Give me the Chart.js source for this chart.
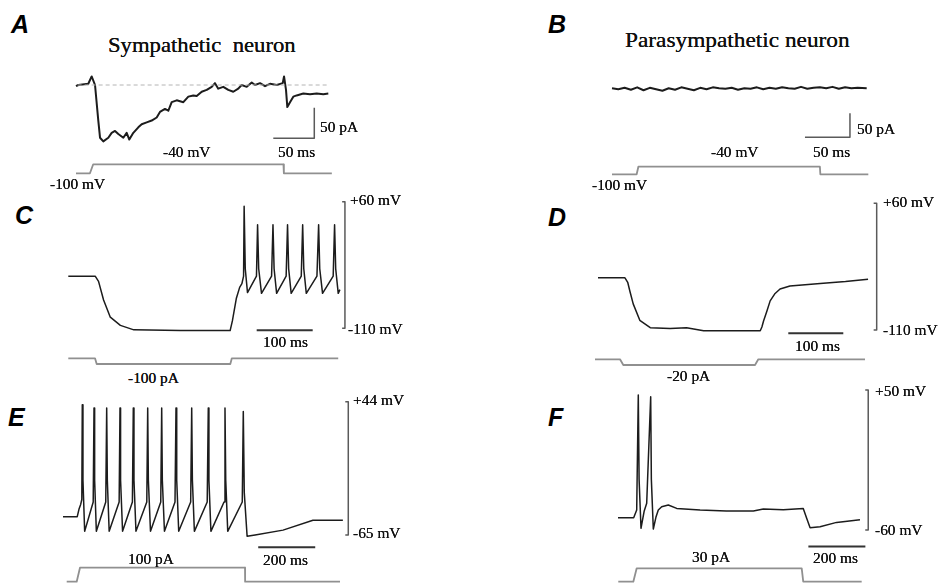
<!DOCTYPE html>
<html>
<head>
<meta charset="utf-8">
<script src="https://cdn.jsdelivr.net/npm/chart.js@4.4.0/dist/chart.umd.min.js"></script>
<style>
  html, body { margin: 0; padding: 0; background: #fff; }
  #fig { position: relative; width: 941px; height: 584px; overflow: hidden; background: #fff; filter: blur(0.35px); }
  .panel { position: absolute; }
  .lbl { position: absolute; white-space: pre; line-height: 1; color: #111;
         font-family: "Liberation Serif", "Times New Roman", serif; transform-origin: 0 0;
         text-shadow: 0 0 0.6px #000; }
  .letter { position: absolute; line-height: 1; color: #000; font-weight: bold; font-style: italic;
            font-family: "Liberation Sans", Arial, sans-serif; }
</style>
</head>
<body>
<div id="fig"></div>
<script>
// ---- A: sympathetic neuron, current under voltage step (ms, pA)
const aTime = [0, 2.8, 15, 19.1, 23.2, 27.2, 29.3, 33.3, 39.4, 43.5, 47.6, 51.6, 57.7, 61.8, 65, 69.9, 76, 80.1, 86.2, 92.3,
  98.4, 102.4, 108.5, 112.6, 116.7, 122.8, 130.9, 137, 143, 147.2, 153.3, 159.4, 165.5, 169.5, 173.5, 179.6, 185.7, 191.8,
  197.9, 202, 208.2, 214.3, 218.3, 224.4, 230.5, 236.6, 244.8, 252.1, 253.7, 256.1, 257.7, 261, 265, 269.1, 277.2, 285.4,
  293.5, 301.6, 307.7];
const aCurrent = [-2, 0, 2, 14, 0, -58, -86, -92, -86, -78, -75, -80, -86, -78, -89, -78, -69, -64, -61, -58,
  -53, -44, -39, -42, -28, -25, -28, -19, -17, -18, -11, -8, -3, 3, -6, -3, -8, -11,
  -6, 0, -3, 4, 0, 3, -2, 2, 0, 3, 14, -8, -36, -28, -19, -17, -14, -15,
  -14, -15, -14];
const aZeroTime = [2, 308];
const aZero = [0, 0];
const aStimTime = [0, 17, 21, 253, 253.5, 312];
const aStimMv = [-100, -100, -40, -40, -100, -100];
const aBarTime = [240.6, 290.6, 290.6];   // 50 ms
const aBarPa = [-87, -87, -37];           // 50 pA

// ---- B: parasympathetic neuron (ms, pA)
const bTime = [0, 7, 14, 21, 28, 35, 42, 49, 56, 63, 70, 77, 84, 91, 98, 105, 112, 119, 126, 133, 140, 147, 154, 161,
  168, 175, 182, 189, 196, 203, 210, 217, 224, 231, 238, 245, 252, 259, 266, 273, 283];
const bCurrent = [0, -2, 1, -3, 2, -4, 1, -2, -5, 0, -3, 2, -1, -4, 1, -2, 2, 0, -1, 1, -3, 0, -1, 2,
  -2, 1, -1, 2, 0, -1, 3, -1, 1, 2, 0, 3, -1, 2, 0, 1, 0];
const bStimTime = [0, 27.4, 29.3, 231, 231.5, 284.8];
const bStimMv = [-100, -100, -40, -40, -100, -100];
const bBarTime = [214.4, 264.4, 264.4];
const bBarPa = [-102, -102, -52];

// ---- C: sympathetic, -100 pA injection (ms, mV)
const cTime = [0, 48, 54, 63, 75, 93, 117, 200, 289, 293, 300, 306, 310, 313, 314, 316, 320, 336, 338, 340,
  345, 363, 365.5, 367.5, 372, 389, 391.5, 393.5, 398, 416, 418.5, 420.5, 425, 444, 447, 449, 454, 473, 475.5, 477.5,
  482, 485];
const cVolt = [-40, -40, -47, -72, -95, -106, -112, -113, -113, -100, -70, -55, -50, -40, 54, -30, -62, -40, 29, -30,
  -63, -40, 29, -30, -63, -40, 29, -30, -63, -40, 29, -30, -63, -40, 29, -30, -63, -40, 29, -30,
  -63, -58];
const cStimTime = [0, 47.7, 50.7, 289.3, 292, 482];
const cStimPa = [0, 0, -100, -100, 0, 0];
const cVBarTime = [489, 494, 494, 489];
const cVBarMv = [60, 60, -110, -110];
const cTBarTime = [336.4, 436.4];          // 100 ms
const cTBarMv = [-112.5, -112.5];

// ---- D: parasympathetic, -20 pA injection (ms, mV)
const dTime = [0, 49, 54, 58, 64, 76, 95, 131, 161, 192, 295, 298, 301, 307, 313, 322, 331, 349, 404, 450, 491];
const dVolt = [-40, -40, -46, -58, -75, -97, -107, -108, -107, -111, -111, -106, -98, -85, -71, -61, -55, -51, -47.5, -45, -42];
const dStimTime = [-5.5, 40, 46, 285.5, 291.5, 485.5];
const dStimPa = [0, 0, -20, -20, 0, 0];
const dVBarTime = [501.2, 506.7, 506.7, 501.2];
const dVBarMv = [60, 60, -110, -110];
const dTBarTime = [346, 446];
const dTBarMv = [-114.5, -114.5];

// ---- E: sympathetic, 100 pA injection (ms, mV)
const eTime = [0, 50, 56, 62, 66, 67.7, 70, 76,
  106, 108.8, 111, 117, 150, 153.3, 155.5, 162, 197, 200, 202, 209, 243.5, 246.7, 249, 256,
  294, 297.2, 299.5, 307, 343, 346.3, 348.5, 356, 393, 396.5, 399, 406, 448, 451.6, 454, 461,
  506, 509.8, 512, 519, 565, 568.4, 571, 578, 629, 632.6, 636, 646, 674, 772, 877, 982];
const eVolt = [-50, -50, -44, -40, -36, 41.5, -20, -62,
  -38, 38.8, -20, -62, -38, 38.8, -20, -62, -38, 38.8, -20, -62, -38, 38.8, -20, -62,
  -38, 38.8, -20, -62, -38, 38.8, -20, -62, -38, 38.8, -20, -62, -38, 38.8, -20, -62,
  -38, 38.8, -20, -62, -38, 38.8, -20, -62, -38, 36, -30, -66, -65, -61, -53, -53];
const eStimTime = [13, 48, 59.6, 638.6, 639, 972];
const eStimPa = [0, 0, 100, 100, 0, 0];
const eVBarTime = [990.5, 1001, 1001, 990.5];
const eVBarMv = [44, 44, -65, -65];
const eTBarTime = [685, 885];              // 200 ms
const eTBarMv = [-75, -75];

// ---- F: parasympathetic, 30 pA injection (ms, mV)
const fTime = [0, 55, 65.6, 71.2, 74, 80.7, 92, 100.7, 114.7, 117, 123.9, 133, 141.4, 153.3, 176.5, 206, 288, 380, 475, 510,
  580, 650, 662, 674, 709, 767, 849];
const fVolt = [-50.3, -50.3, -44.3, 46, -20, -58.6, -45, -39, 44.7, -20, -59.2, -50, -44.3, -41.7, -40.3, -43, -44.3, -45, -45, -43.5,
  -44, -43, -50.8, -58.2, -57.4, -54, -52];
const fStimTime = [1, 53.7, 65.6, 644.6, 650, 855];
const fStimPa = [0, 0, 30, 30, 0, 0];
const fVBarTime = [867.5, 878, 878, 867.5];
const fVBarMv = [50, 50, -60, -60];
const fTBarTime = [668, 868];
const fTBarMv = [-73, -73];

// ---------------------------------------------------------------
const TRACE = '#1c1c1c', STIM = '#909090', BAR = '#5a5a5a';
const fig = document.getElementById('fig');

function series(xs, ys, color, width, axis, dash) {
  return {
    data: xs.map((x, i) => ({ x: x, y: ys[i] })),
    borderColor: color, borderWidth: width, yAxisID: axis,
    borderDash: dash || [], pointRadius: 0, fill: false, tension: 0,
    borderJoinStyle: 'round', borderCapStyle: 'butt'
  };
}

// axis limits so that refVal lands on refPx with ppu pixels per unit
function xRange(box, refPx, refVal, ppu) {
  return { min: refVal - (refPx - box.left) / ppu, max: refVal + (box.left + box.width - refPx) / ppu };
}
function yRange(box, refPx, refVal, ppu) {
  return { min: refVal - (box.top + box.height - refPx) / ppu, max: refVal + (refPx - box.top) / ppu };
}

function panel(box, cal, datasets) {
  const wrap = document.createElement('div');
  wrap.className = 'panel';
  wrap.style.left = box.left + 'px';
  wrap.style.top = box.top + 'px';
  const cv = document.createElement('canvas');
  cv.width = box.width; cv.height = box.height;
  wrap.appendChild(cv);
  fig.appendChild(wrap);
  const xr = xRange(box, cal.x[0], cal.x[1], cal.x[2]);
  const yr = yRange(box, cal.y[0], cal.y[1], cal.y[2]);
  const y2r = yRange(box, cal.y2[0], cal.y2[1], cal.y2[2]);
  new Chart(cv, {
    type: 'line',
    data: { datasets: datasets },
    options: {
      responsive: false, animation: false, devicePixelRatio: 1,
      layout: { padding: 0 },
      plugins: { legend: { display: false }, tooltip: { enabled: false } },
      scales: {
        x: { type: 'linear', display: false, min: xr.min, max: xr.max },
        y: { type: 'linear', display: false, min: yr.min, max: yr.max },
        y2: { type: 'linear', display: false, min: y2r.min, max: y2r.max }
      }
    }
  });
}

function label(text, left, baseline, size, sx) {
  const d = document.createElement('div');
  d.className = 'lbl';
  d.textContent = text;
  d.style.fontSize = size + 'px';
  d.style.left = left + 'px';
  d.style.top = (baseline - 0.8375 * size) + 'px';
  d.style.transform = 'scaleX(' + (sx || 1.1) + ')';
  fig.appendChild(d);
}
function letter(text, left, baseline) {
  const d = document.createElement('div');
  d.className = 'letter';
  d.textContent = text;
  d.style.fontSize = '25px';
  d.style.left = left + 'px';
  d.style.top = (baseline - 0.8465 * 25) + 'px';
  fig.appendChild(d);
}

// A
panel({ left: 60, top: 65, width: 290, height: 122 },
  { x: [76, 0, 0.82], y: [85, 0, 0.613], y2: [173.3, -100, 0.15] }, [
    series(aZeroTime, aZero, '#b4b4b4', 1, 'y', [4, 3]),
    series(aTime, aCurrent, TRACE, 2, 'y'),
    series(aStimTime, aStimMv, STIM, 1.8, 'y2'),
    series(aBarTime, aBarPa, BAR, 1.5, 'y')
  ]);
// B
panel({ left: 595, top: 65, width: 290, height: 122 },
  { x: [612, 0, 0.9], y: [88.3, 0, 0.48], y2: [174.3, -100, 0.1267] }, [
    series(bTime, bCurrent, TRACE, 2, 'y'),
    series(bStimTime, bStimMv, STIM, 1.8, 'y2'),
    series(bBarTime, bBarPa, BAR, 1.5, 'y')
  ]);
// C
panel({ left: 55, top: 195, width: 300, height: 175 },
  { x: [68.3, 0, 0.56], y: [201.7, 60, 0.745], y2: [358.3, 0, 0.057] }, [
    series(cTime, cVolt, TRACE, 1.5, 'y'),
    series(cStimTime, cStimPa, STIM, 1.8, 'y2'),
    series(cVBarTime, cVBarMv, BAR, 1.5, 'y'),
    series(cTBarTime, cTBarMv, '#333', 2, 'y')
  ]);
// D
panel({ left: 585, top: 195, width: 300, height: 175 },
  { x: [598, 0, 0.55], y: [203.3, 60, 0.745], y2: [359.3, 0, 0.285] }, [
    series(dTime, dVolt, TRACE, 1.5, 'y'),
    series(dStimTime, dStimPa, STIM, 1.8, 'y2'),
    series(dVBarTime, dVBarMv, BAR, 1.5, 'y'),
    series(dTBarTime, dTBarMv, '#333', 2, 'y')
  ]);
// E
panel({ left: 55, top: 392, width: 300, height: 192 },
  { x: [63, 0, 0.285], y: [401.7, 44, 1.223], y2: [581.7, 0, 0.14] }, [
    series(eTime, eVolt, TRACE, 1.5, 'y'),
    series(eStimTime, eStimPa, STIM, 1.8, 'y2'),
    series(eVBarTime, eVBarMv, BAR, 1.5, 'y'),
    series(eTBarTime, eTBarMv, '#333', 2, 'y')
  ]);
// F
panel({ left: 605, top: 380, width: 275, height: 204 },
  { x: [618, 0, 0.285], y: [390, 50, 1.273], y2: [581.7, 0, 0.447] }, [
    series(fTime, fVolt, TRACE, 1.5, 'y'),
    series(fStimTime, fStimPa, STIM, 1.8, 'y2'),
    series(fVBarTime, fVBarMv, BAR, 1.5, 'y'),
    series(fTBarTime, fTBarMv, '#333', 2, 'y')
  ]);

// panel letters
letter('A', 11, 33); letter('B', 548, 33);
letter('C', 15, 224); letter('D', 548, 226);
letter('E', 8, 426); letter('F', 548, 426);

// titles
label('Sympathetic  neuron', 108, 52.5, 21, 1.08);
label('Parasympathetic neuron', 625, 47.5, 21, 1.11);

// A labels
label('50 pA', 320, 133, 14); label('50 ms', 278, 158, 14);
label('-40 mV', 163, 158, 14); label('-100 mV', 50, 190, 14);
// B labels
label('50 pA', 857, 135, 14); label('50 ms', 813, 158, 14);
label('-40 mV', 711, 158, 14); label('-100 mV', 592, 191, 14);
// C labels
label('+60 mV', 350, 206, 14); label('-110 mV', 348, 335, 14);
label('100 ms', 263, 348, 14); label('-100 pA', 128, 384, 14);
// D labels
label('+60 mV', 883, 208, 14); label('-110 mV', 883, 336, 14);
label('100 ms', 795, 352, 14); label('-20 pA', 667, 382, 14);
// E labels
label('+44 mV', 353, 406, 14); label('-65 mV', 353, 539, 14);
label('200 ms', 263, 566, 14); label('100 pA', 128, 565, 14);
// F labels
label('+50 mV', 875, 397, 14); label('-60 mV', 875, 536, 14);
label('200 ms', 813, 564, 14); label('30 pA', 692, 563, 14);
</script>
</body>
</html>
